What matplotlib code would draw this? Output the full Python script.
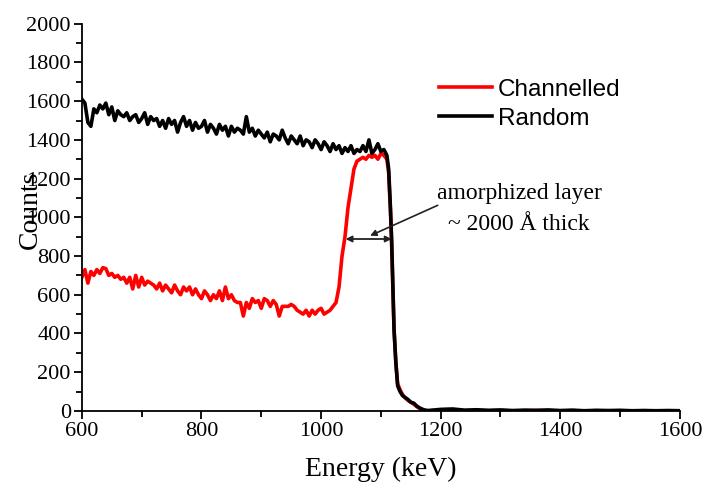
import matplotlib.pyplot as plt
import numpy as np

# Random spectrum, 600-1110 keV in 5 keV steps, then the surface edge and tail
random_grid = np.arange(600, 1115, 5)
random_grid_counts = [
    1610, 1590, 1490, 1470, 1560, 1540, 1580, 1560, 1590, 1530,
    1570, 1500, 1550, 1530, 1520, 1540, 1500, 1520, 1530, 1490,
    1510, 1540, 1480, 1520, 1500, 1510, 1470, 1500, 1460, 1510,
    1480, 1500, 1440, 1490, 1520, 1470, 1500, 1450, 1490, 1460,
    1470, 1500, 1440, 1480, 1460, 1430, 1480, 1450, 1470, 1420,
    1470, 1440, 1460, 1450, 1430, 1520, 1440, 1460, 1420, 1450,
    1430, 1410, 1440, 1390, 1430, 1420, 1400, 1450, 1410, 1380,
    1420, 1400, 1380, 1420, 1370, 1400, 1390, 1360, 1400, 1380,
    1350, 1390, 1370, 1340, 1380, 1350, 1370, 1330, 1360, 1340,
    1370, 1330, 1350, 1340, 1370, 1340, 1400, 1330, 1350, 1380,
    1340, 1350, 1320,
]
edge_energy = [1113, 1116, 1118, 1120, 1122, 1125, 1128, 1132, 1136, 1140,
               1145, 1150, 1155, 1160, 1165, 1170, 1175, 1180]
random_edge_counts = [1250, 1050, 880, 650, 420, 250, 130, 100, 80, 70,
                      60, 45, 40, 25, 15, 8, 3, 2]
tail_energy = [1200, 1220, 1240, 1260, 1280, 1300, 1320, 1340, 1360, 1380,
               1400, 1420, 1440, 1460, 1480, 1500, 1520, 1540, 1560, 1580, 1600]
random_tail_counts = [8, 10, 4, 6, 3, 5, 2, 4, 3, 5, 2, 4, 1, 3, 2, 3, 1, 2, 1, 2, 1]

# Channelled spectrum, 600-1110 keV in 5 keV steps
chan_grid = np.arange(600, 1115, 5)
chan_grid_counts = [
    690, 730, 660, 720, 700, 730, 710, 740, 735, 700,
    710, 690, 700, 680, 690, 660, 690, 630, 700, 640,
    690, 650, 670, 660, 650, 630, 660, 620, 650, 630,
    610, 650, 620, 600, 640, 620, 640, 600, 630, 600,
    580, 620, 600, 570, 600, 580, 620, 570, 640, 580,
    600, 570, 560, 560, 490, 560, 530, 580, 560, 570,
    530, 580, 570, 540, 570, 550, 490, 540, 540, 540,
    550, 540, 520, 510, 500, 520, 490, 520, 500, 520,
    530, 500, 510, 520, 540, 560, 640, 800, 900, 1050,
    1150, 1250, 1290, 1300, 1310, 1300, 1320, 1310, 1320, 1300,
    1330, 1320, 1300,
]
chan_edge_counts = [1230, 1030, 860, 640, 420, 250, 140, 110, 85, 70,
                    55, 45, 35, 22, 12, 6, 2, 1]
chan_tail_counts = [4, 2, 1, 3, 1, 2, 0, 1, 2, 1, 0, 1, 0, 1, 0, 1, 0, 1, 0, 0, 0]

x_ticks = [600, 800, 1000, 1200, 1400, 1600]
y_ticks = [0, 200, 400, 600, 800, 1000, 1200, 1400, 1600, 1800, 2000]

random_e = np.concatenate([random_grid, edge_energy, tail_energy])
random_c = np.concatenate([random_grid_counts, random_edge_counts, random_tail_counts])
chan_e = np.concatenate([chan_grid, edge_energy, tail_energy])
chan_c = np.concatenate([chan_grid_counts, chan_edge_counts, chan_tail_counts])

serif = 'Liberation Serif'
sans = 'Liberation Sans'
plt.rcParams['font.family'] = serif

fig = plt.figure(figsize=(7.06, 4.84), dpi=100)
ax = fig.add_axes([0.116, 0.151, 0.847, 0.800])

ax.plot(chan_e, chan_c, color='#ff0000', lw=2.6, label='Channelled')
ax.plot(random_e, random_c, color='black', lw=2.6, label='Random')

ax.set_xlim(600, 1600)
ax.set_ylim(0, 2000)
ax.set_xticks(x_ticks)
ax.set_xticklabels([str(v) for v in x_ticks], fontfamily=serif, fontsize=16)
ax.set_xticks(np.arange(700, 1600, 200), minor=True)
ax.set_yticks(y_ticks)
ax.set_yticklabels([str(v) for v in y_ticks], fontfamily=serif, fontsize=16)
ax.set_yticks(np.arange(100, 2000, 200), minor=True)

for s in ['top', 'right']:
    ax.spines[s].set_visible(False)
for s in ['left', 'bottom']:
    ax.spines[s].set_linewidth(1.3)
ax.tick_params(which='major', direction='out', length=6, width=1.3, pad=2)
ax.tick_params(which='minor', direction='out', length=4, width=1.3)

ax.set_xlabel('Energy (keV)', fontfamily=serif, fontsize=20)
ax.set_ylabel('Counts', fontfamily=serif, fontsize=20)
ax.yaxis.set_label_coords(-0.066, 0.52)
ax.xaxis.set_label_coords(0.5, -0.118)

leg = ax.legend(loc='upper left', bbox_to_anchor=(0.56, 0.915), frameon=False,
                prop={'family': sans, 'size': 17.5}, handlelength=2.2,
                handletextpad=0.25, labelspacing=0.3)

# double-headed arrow marking the amorphized layer
ax.annotate('', xy=(1041, 888), xytext=(1118, 888),
            arrowprops=dict(arrowstyle='<|-|>', color='#222222', lw=1.3,
                            mutation_scale=9, shrinkA=0, shrinkB=0))
ax.annotate('', xy=(1082, 905), xytext=(1195, 1062),
            arrowprops=dict(arrowstyle='-|>', color='#222222', lw=1.2,
                            mutation_scale=9, shrinkA=0, shrinkB=0))
ax.text(1331, 1124, 'amorphized layer', fontfamily=serif, fontsize=17,
        ha='center', va='center')
ax.text(1330, 965, '~ 2000 Å thick', fontfamily=serif, fontsize=17,
        ha='center', va='center')

fig.savefig('out.png', dpi=100)
